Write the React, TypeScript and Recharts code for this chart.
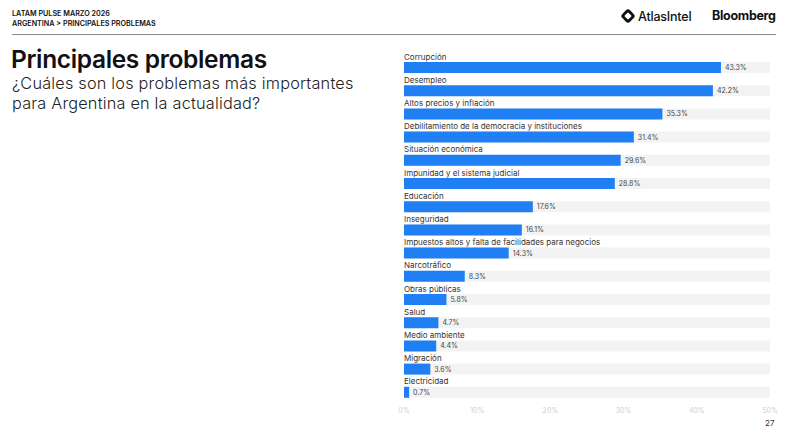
import { BarChart, Bar, XAxis, YAxis, LabelList } from 'recharts';

// Principales problemas -- Argentina, LATAM Pulse marzo 2026

const problems = [
  'Corrupción',
  'Desempleo',
  'Altos precios y inflación',
  'Debilitamiento de la democracia y instituciones',
  'Situación económica',
  'Impunidad y el sistema judicial',
  'Educación',
  'Inseguridad',
  'Impuestos altos y falta de facilidades para negocios',
  'Narcotráfico',
  'Obras públicas',
  'Salud',
  'Medio ambiente',
  'Migración',
  'Electricidad',
];

const shares = [43.3, 42.2, 35.3, 31.4, 29.6, 28.8, 17.6, 16.1, 14.3, 8.3, 5.8, 4.7, 4.4, 3.6, 0.7];

const axisTicks = [0, 10, 20, 30, 40, 50];

const data = problems.map((name, i) => ({ name, value: shares[i] }));

const FONT = 'Inter, "Noto Sans", sans-serif';
const BLUE = '#1f7ff3';

function NameLabel(props: any) {
  const { x, y, value } = props;
  return (
    <text x={x} y={y - 2.5} fontSize={8} fill="#333" fontFamily={FONT}>
      {value}
    </text>
  );
}

function AtlasIcon() {
  return (
    <svg width={16} height={16} viewBox="0 0 16 16" style={{ display: 'block' }}>
      <rect x={2.5} y={2.5} width={11} height={11} rx={3} transform="rotate(45 8 8)" fill="#111" />
      <rect x={5.3} y={5.3} width={5.4} height={5.4} rx={1} transform="rotate(45 8 8)" fill="#fff" />
    </svg>
  );
}

export default function App() {
  return (
    <div
      style={{
        position: 'absolute',
        left: 0,
        top: 0,
        width: 790,
        height: 441,
        background: '#fff',
        fontFamily: FONT,
        color: '#111',
        overflow: 'hidden',
      }}
    >
      {/* header */}
      <div style={{ position: 'absolute', left: 12, top: 9, fontSize: 7.2, fontWeight: 600, lineHeight: '10px' }}>
        LATAM PULSE MARZO 2026
        <br />
        ARGENTINA &gt; PRINCIPALES PROBLEMAS
      </div>
      <div style={{ position: 'absolute', left: 620, top: 8, display: 'flex', alignItems: 'center', gap: 2 }}>
        <AtlasIcon />
        <span style={{ fontSize: 12.5, fontWeight: 500, letterSpacing: -0.2 }}>AtlasIntel</span>
      </div>
      <div style={{ position: 'absolute', left: 712, top: 8, fontSize: 12.5, fontWeight: 700, letterSpacing: -0.3 }}>
        Bloomberg
      </div>
      <div style={{ position: 'absolute', left: 12, top: 34, width: 764, height: 1, background: '#8a8a8a' }} />

      {/* title */}
      <div
        style={{
          position: 'absolute',
          left: 11,
          top: 46,
          fontSize: 24.5,
          fontWeight: 600,
          letterSpacing: -0.35,
          lineHeight: '26px',
          whiteSpace: 'nowrap',
        }}
      >
        Principales problemas
      </div>
      <div
        style={{
          position: 'absolute',
          left: 12,
          top: 74,
          fontSize: 16.3,
          fontWeight: 300,
          letterSpacing: 0.2,
          lineHeight: '19.8px',
          color: '#222',
          whiteSpace: 'nowrap',
        }}
      >
        ¿Cuáles son los problemas más importantes
        <br />
        para Argentina en la actualidad?
      </div>

      {/* chart */}
      <div style={{ position: 'absolute', left: 390, top: 0 }}>
        <BarChart
          width={400}
          height={441}
          data={data}
          layout="vertical"
          margin={{ top: 56, right: 20, bottom: 17, left: 14 }}
          barCategoryGap={0}
        >
          <XAxis
            type="number"
            domain={[0, 50]}
            ticks={axisTicks}
            tickFormatter={(v) => `${v}%`}
            axisLine={false}
            tickLine={false}
            tickSize={0}
            tickMargin={4}
            height={20}
            tick={{ fontSize: 7, fill: '#cfcfcf', fontFamily: FONT }}
            interval={0}
          />
          <YAxis type="category" dataKey="name" hide />
          <Bar
            dataKey="value"
            fill={BLUE}
            barSize={11}
            background={{ fill: '#f3f3f3' }}
            isAnimationActive={false}
          >
            <LabelList dataKey="name" content={NameLabel} />
            <LabelList
              dataKey="value"
              position="right"
              offset={4}
              formatter={(v: any) => `${v}%`}
              style={{ fontSize: 7, fill: '#444', fontFamily: FONT }}
            />
          </Bar>
        </BarChart>
      </div>

      <div style={{ position: 'absolute', left: 765, top: 418, fontSize: 8, color: '#333' }}>27</div>
    </div>
  );
}
